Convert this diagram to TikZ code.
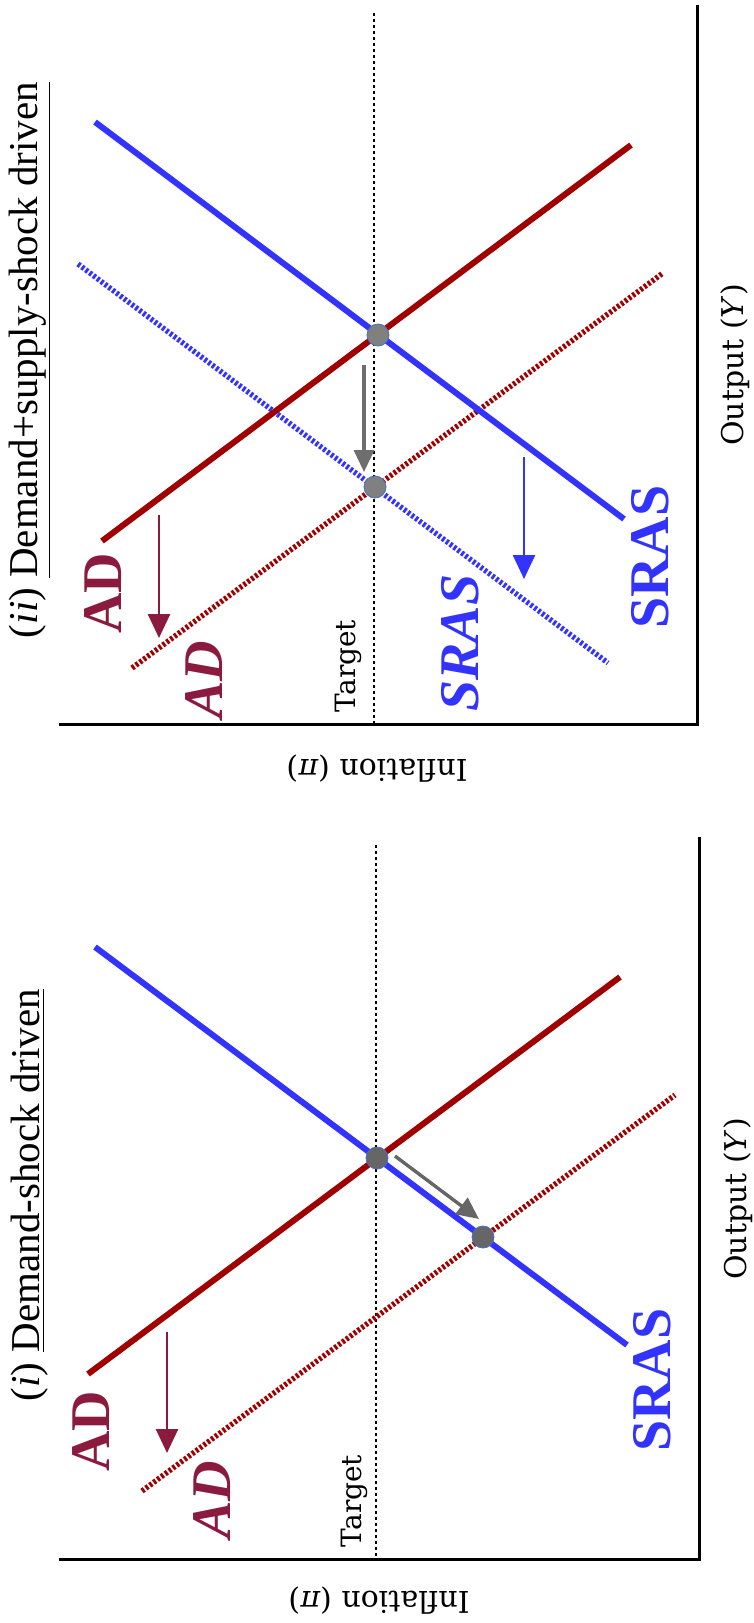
\documentclass[tikz,border=0pt]{standalone}
\usepackage{fontspec}
\setmainfont{Liberation Serif}
\newfontfamily\axisfont{DejaVu Serif}
\usetikzlibrary{arrows.meta}
\definecolor{sblue}{RGB}{51,51,255}
\definecolor{adred}{RGB}{160,0,0}
\definecolor{admaroon}{RGB}{139,26,63}
\definecolor{grayA}{RGB}{102,102,102}
\definecolor{grayB}{RGB}{128,128,128}
\definecolor{grayarrowB}{RGB}{110,110,110}
\definecolor{dotedge}{RGB}{68,114,196}
\begin{document}
\begin{tikzpicture}[x=0.5pt,y=-0.5pt,
  curve/.style={line width=3pt},
  shifted/.style={line width=2.7pt, dash pattern=on 1.4pt off 1pt},
  axisline/.style={line width=1.5pt, black},
  targetline/.style={line width=0.9pt, dash pattern=on 1.5pt off 1.5pt},
  eqdot/.style={circle, inner sep=0pt, minimum size=11pt, draw=dotedge, line width=0.4pt},
  shiftarrow/.style={line width=1.3pt, -{Triangle[width=11pt,length=12pt]}},
  movearrow/.style={line width=1.7pt, -{Triangle[width=10pt,length=11pt]}},
  biglabel/.style={font=\fontsize{28}{28}\selectfont\bfseries, rotate=90, inner sep=0pt},
  titlelabel/.style={font=\fontsize{20.5}{24}\selectfont, rotate=90, inner sep=0pt},
  axislabel/.style={font=\axisfont\fontsize{15}{18}\selectfont, inner sep=0pt},
  targetlabel/.style={font=\axisfont\fontsize{14}{16}\selectfont, rotate=90, inner sep=0pt}
]
\fill[white] (0,0) rectangle (754,1623);
\useasboundingbox (0,0) rectangle (754,1623);

% ================= Panel (ii) (top) =================
\coordinate (oB) at (697,724);
\coordinate (yB) at (59,724);
\coordinate (xB) at (697,5);
\draw[axisline] (yB) -- (oB) -- (xB);
\coordinate (tB1) at (374,13);
\coordinate (tB2) at (374,724);
\draw[targetline] (tB1) -- (tB2);

\coordinate (srasB1) at (95,122);
\coordinate (srasB2) at (624,519);
\coordinate (adB1) at (102,541);
\coordinate (adB2) at (631,145);
\coordinate (srasBs1) at (78,264);
\coordinate (srasBs2) at (608,663);
\coordinate (adBs1) at (132,668);
\coordinate (adBs2) at (663,273);
\draw[shifted, sblue] (srasBs1) -- (srasBs2);
\draw[shifted, adred] (adBs1) -- (adBs2);
\draw[curve, sblue] (srasB1) -- (srasB2);
\draw[curve, adred] (adB1) -- (adB2);

\node[eqdot, fill=grayB] (eB1) at (378,335) {};
\node[eqdot, fill=grayB] (eB2) at (375,487) {};

\coordinate (gB1) at (364,365);
\coordinate (gB2) at (364,472);
\draw[movearrow, grayarrowB] (gB1) -- (gB2);
\coordinate (mB1) at (159,515);
\coordinate (mB2) at (159,638);
\draw[shiftarrow, admaroon] (mB1) -- (mB2);
\coordinate (bB1) at (524,457);
\coordinate (bB2) at (524,579);
\draw[shiftarrow, sblue] (bB1) -- (bB2);

\node[biglabel, admaroon] (lADB) at (103,593) {AD};
\node[biglabel, admaroon] (lADBs) at (204,680) {\itshape AD};
\node[biglabel, sblue] (lSRASBs) at (460,643) {\itshape SRAS};
\node[biglabel, sblue] (lSRASB) at (650,557) {SRAS};
\node[titlelabel] (titleB) at (30,360) {(\textit{ii}) \underline{Demand+supply-shock driven}};
\node[axislabel, rotate=90] (outB) at (735,365) {Output (\textit{Y})};
\node[axislabel, rotate=180] (infB) at (377,769) {Inflation (\textit{π})};
\node[targetlabel] (tgtB) at (348,666) {Target};

% ================= Panel (i) (bottom) =================
\coordinate (oA) at (699,1559);
\coordinate (yA) at (59,1559);
\coordinate (xA) at (699,837);
\draw[axisline] (yA) -- (oA) -- (xA);
\coordinate (tA1) at (376,845);
\coordinate (tA2) at (376,1559);
\draw[targetline] (tA1) -- (tA2);

\coordinate (srasA1) at (95,947);
\coordinate (srasA2) at (627,1345);
\coordinate (adA1) at (88,1374);
\coordinate (adA2) at (620,977);
\coordinate (adAs1) at (142,1491);
\coordinate (adAs2) at (675,1095);
\draw[shifted, adred] (adAs1) -- (adAs2);
\draw[curve, sblue] (srasA1) -- (srasA2);
\draw[curve, adred] (adA1) -- (adA2);

\node[eqdot, fill=grayA] (eA1) at (377,1158) {};
\node[eqdot, fill=grayA] (eA2) at (483,1237) {};

\coordinate (gA1) at (395,1156);
\coordinate (gA2) at (479,1219);
\draw[movearrow, grayA] (gA1) -- (gA2);
\coordinate (mA1) at (167,1332);
\coordinate (mA2) at (167,1453);
\draw[shiftarrow, admaroon] (mA1) -- (mA2);

\node[biglabel, admaroon] (lADA) at (91,1431) {AD};
\node[biglabel, admaroon] (lADAs) at (212,1500) {\itshape AD};
\node[biglabel, sblue] (lSRASA) at (652,1380) {SRAS};
\node[titlelabel] (titleA) at (30,1195) {(\textit{i}) \underline{Demand-shock driven}};
\node[axislabel, rotate=90] (outA) at (738,1199) {Output (\textit{Y})};
\node[axislabel, rotate=180] (infA) at (379,1601) {Inflation (\textit{π})};
\node[targetlabel] (tgtA) at (354,1501) {Target};
\end{tikzpicture}
\end{document}
